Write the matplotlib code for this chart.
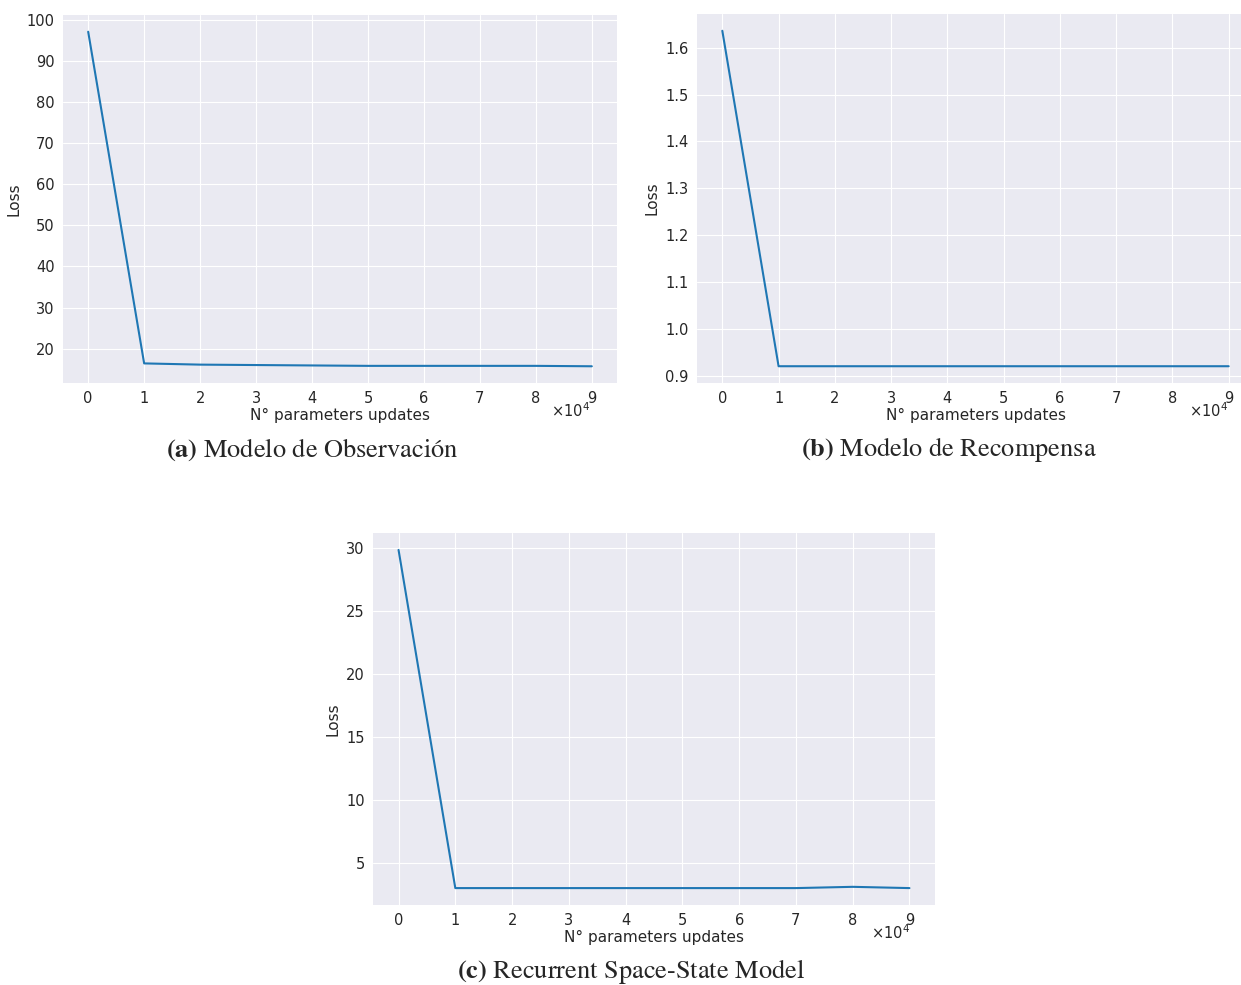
import numpy as np
import matplotlib.pyplot as plt

# datos de pérdida por número de actualizaciones
updates = [0, 10000, 20000, 30000, 40000, 50000, 60000, 70000, 80000, 90000]
loss_obs = [97.1, 16.4, 16.1, 16.0, 15.9, 15.8, 15.8, 15.8, 15.8, 15.7]
loss_rew = [1.636, 0.921, 0.921, 0.921, 0.921, 0.921, 0.921, 0.921, 0.921, 0.921]
loss_rssm = [29.85, 3.02, 3.02, 3.02, 3.02, 3.02, 3.02, 3.02, 3.12, 3.02]
captions = [r"$\bf{(a)}$ Modelo de Observación",
            r"$\bf{(b)}$ Modelo de Recompensa",
            r"$\bf{(c)}$ Recurrent Space-State Model"]

plt.style.use('seaborn-v0_8-darkgrid')
plt.rcParams['font.family'] = ['DejaVu Sans']
plt.rcParams['mathtext.fontset'] = 'stix'

W, H = 1241, 985
fig = plt.figure(figsize=(W / 100, H / 100), dpi=100)


def make_ax(x0, y0, x1, y1):
    # posición en píxeles -> fracción de la figura
    return fig.add_axes([x0 / W, 1 - y1 / H, (x1 - x0) / W, (y1 - y0) / H])


axes = [make_ax(63, 15, 617, 383), make_ax(697, 14, 1254, 383), make_ax(373, 533, 935, 905)]
series = [loss_obs, loss_rew, loss_rssm]
# donde termina el "x10^4" en cada panel (px)
off_right = [590, 1228, 910]
ax_px = [(63, 617, 383), (697, 1254, 383), (373, 935, 905)]

for ax, y, orx, (x0, x1, yb) in zip(axes, series, off_right, ax_px):
    ax.plot(updates, y, color='#1f77b4', linewidth=1.5)
    ax.set_xticks(updates)
    ax.set_xticklabels([str(u // 10000) for u in updates])
    ax.tick_params(labelsize=10.5, pad=6)
    ax.set_xlabel("N° parameters updates", fontsize=11, labelpad=1)
    ax.set_ylabel("Loss", fontsize=11)
    hgt = ax.get_position().height * H
    ax.text((orx - x0) / (x1 - x0), -18 / hgt, r'$\times10^{4}$', transform=ax.transAxes,
            ha='right', va='top', fontsize=10.5, family='DejaVu Sans', math_fontfamily='dejavusans',
            color='0.15')

axes[1].set_yticks(np.arange(0.9, 1.61, 0.1))

fig.text(312 / W, 1 - 450 / H, captions[0], ha='center', va='center', fontsize=19, family='STIXGeneral')
fig.text(949 / W, 1 - 450 / H, captions[1], ha='center', va='center', fontsize=19, family='STIXGeneral')
fig.text(631 / W, 1 - 971 / H, captions[2], ha='center', va='center', fontsize=19, family='STIXGeneral')

fig.savefig("out.png", dpi=100)
